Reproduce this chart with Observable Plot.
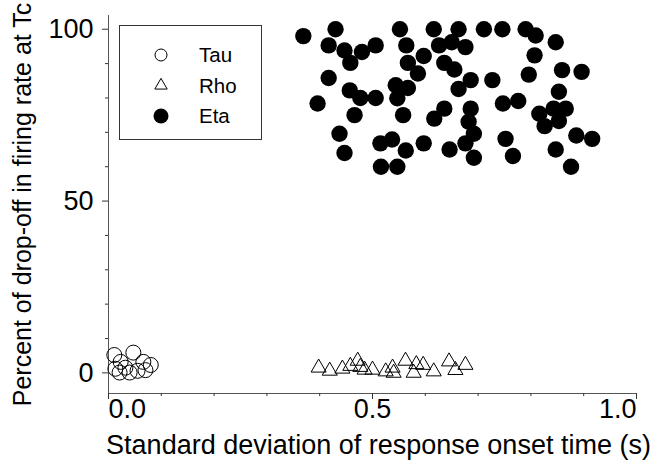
<!DOCTYPE html>
<html><head><meta charset="utf-8">
<script src="https://cdn.jsdelivr.net/npm/d3@7"></script>
<script src="https://cdn.jsdelivr.net/npm/@observablehq/plot@0.6"></script>
<style>
html,body{margin:0;padding:0;background:#fff;}
#chart{width:659px;height:473px;}
</style></head><body><div id="chart"></div>
<script>
// ---- data ----
const seriesNames = ["Tau", "Rho", "Eta"];
const tauX = [0.011, 0.047, 0.023, 0.066, 0.080, 0.013, 0.021, 0.032, 0.040, 0.055, 0.070];
const tauY = [5.2, 5.9, 3.2, 3.2, 2.3, 1.2, 0.1, 1.5, 0.1, 0.6, 0.8];
const rhoX = [0.398, 0.419, 0.443, 0.458, 0.472, 0.477, 0.485, 0.500, 0.525, 0.538, 0.540, 0.5625, 0.578, 0.583, 0.596, 0.616, 0.645, 0.657, 0.676];
const rhoY = [1.5, 0.6, 1.2, 2.0, 3.5, 1.7, 0.9, 0.9, 0.4, 1.5, 0.0, 3.5, 0.0, 2.5, 2.3, 0.4, 3.3, 0.8, 2.3];
const etaX = [0.369, 0.430, 0.552, 0.616, 0.663, 0.711, 0.746, 0.790, 0.809, 0.847,
  0.417, 0.447, 0.480, 0.506, 0.458, 0.564, 0.597, 0.626, 0.650, 0.676,
  0.567, 0.586, 0.636, 0.655, 0.686, 0.663, 0.417, 0.457, 0.477, 0.506,
  0.544, 0.567, 0.547, 0.396, 0.466, 0.558, 0.636, 0.617, 0.686, 0.682,
  0.692, 0.4375, 0.447, 0.515, 0.537, 0.563, 0.597, 0.646, 0.676, 0.692,
  0.516, 0.547, 0.807, 0.859, 0.896, 0.796, 0.727, 0.853, 0.747, 0.776,
  0.843, 0.866, 0.816, 0.853, 0.826, 0.752, 0.886, 0.916, 0.766, 0.847, 0.876];
const etaY = [98.0, 100, 100, 100, 100, 100, 100, 100, 98.2, 96.2,
  95.3, 93.8, 93.4, 95.3, 90.2, 95.3, 92.2, 95.3, 96.2, 94.8,
  90.2, 87.1, 90.2, 88.3, 85.2, 82.6, 85.8, 82.2, 80.0, 80.0,
  83.7, 82.9, 79.9, 78.4, 75.0, 75.0, 76.9, 74.0, 76.9, 73.1,
  69.6, 69.6, 64.0, 66.8, 67.9, 64.7, 66.8, 65.0, 66.8, 62.6,
  60.0, 60.0, 92.4, 88.1, 87.6, 86.8, 85.2, 81.8, 78.4, 79.1,
  76.9, 76.9, 75.4, 73.3, 71.8, 68.1, 69.1, 68.1, 63.1, 65.0, 60.0];
const xMajorTicks = [0, 0.5, 1];
const xMinorTicks = [0.1, 0.2, 0.3, 0.4, 0.6, 0.7, 0.8, 0.9];
const yMajorTicks = [0, 50, 100];
const yMinorTicks = [10, 20, 30, 40, 60, 70, 80, 90];
const xLabel = "Standard deviation of response onset time (s)";
const yLabel = "Percent of drop-off in firing rate at Tc";

const toRows = (xs, ys) => xs.map((x, i) => ({x, y: ys[i]}));
const tau = toRows(tauX, tauY);
const rho = toRows(rhoX, rhoY);
const eta = toRows(etaX, etaY);

const font = "'Liberation Sans', Arial, Helvetica, sans-serif";
const axisColor = "#333";

const plot = Plot.plot({
  width: 659, height: 473,
  marginLeft: 108, marginRight: 23, marginTop: 15, marginBottom: 80,
  x: {domain: [0, 1], axis: null},
  y: {domain: [-6, 104], axis: null},
  style: {fontFamily: font, background: "white", color: "black"},
  marks: [
    Plot.ruleY([-6], {stroke: "#555", strokeWidth: 1}),
    Plot.ruleX([0], {stroke: "#555", strokeWidth: 1}),
    Plot.axisX(xMinorTicks, {tickSize: 3, tickFormat: () => "", label: null, stroke: axisColor}),
    Plot.axisX(xMajorTicks, {tickSize: 6, tickFormat: () => "", label: null, stroke: axisColor}),
    Plot.axisY(yMinorTicks, {tickSize: 3, tickFormat: () => "", label: null, stroke: axisColor}),
    Plot.axisY(yMajorTicks, {tickSize: 6, tickFormat: () => "", label: null, stroke: axisColor}),
    Plot.text(xMajorTicks.filter(d => d === 0), {x: d => d, frameAnchor: "bottom", dy: 24, textAnchor: "start", fontSize: 27, text: d => d.toFixed(1), fill: "black"}),
    Plot.text(xMajorTicks.filter(d => d > 0 && d < 1), {x: d => d, frameAnchor: "bottom", dy: 24, textAnchor: "middle", fontSize: 27, text: d => d.toFixed(1), fill: "black"}),
    Plot.text(xMajorTicks.filter(d => d === 1), {x: d => d, frameAnchor: "bottom", dy: 24, textAnchor: "end", fontSize: 27, text: d => d.toFixed(1), fill: "black"}),
    Plot.text(yMajorTicks, {y: d => d, frameAnchor: "left", dx: -15, textAnchor: "end", fontSize: 27, text: d => String(d), fill: "black"}),
    Plot.text([xLabel], {frameAnchor: "bottom", dx: 6, dy: 60, textAnchor: "middle", fontSize: 27, text: d => d, fill: "black"}),
    Plot.text([yLabel], {frameAnchor: "left", dx: -86, rotate: -90, textAnchor: "middle", fontSize: 25, text: d => d, fill: "black"}),
    Plot.dot(tau, {x: "x", y: "y", r: 7.5, stroke: "black", fill: "none", strokeWidth: 1}),
    Plot.dot(rho, {x: "x", y: "y", symbol: "triangle", r: 5.6, stroke: "black", fill: "none", strokeWidth: 1}),
    Plot.dot(eta, {x: "x", y: "y", r: 8.2, fill: "black", stroke: "none"})
  ]
});
document.getElementById("chart").appendChild(plot);

// ---- legend (boxed, inside the plot) ----
const svg = d3.select(plot);
const lg = svg.append("g").attr("font-family", font).attr("text-anchor", "start");
lg.append("rect").attr("x", 119.5).attr("y", 25.5).attr("width", 142).attr("height", 114)
  .attr("fill", "white").attr("stroke", axisColor).attr("stroke-width", 1);
const legendStyles = [
  {symbol: d3.symbolCircle, r: 6, fill: "none", stroke: "black"},
  {symbol: d3.symbolTriangle, r: 4.6, fill: "none", stroke: "black"},
  {symbol: d3.symbolCircle, r: 7.5, fill: "black", stroke: "none"}
];
seriesNames.forEach((name, i) => {
  const cy = 55 + i * 30.5;
  const s = legendStyles[i];
  lg.append("path").attr("transform", `translate(161,${cy})`)
    .attr("d", d3.symbol(s.symbol, Math.PI * s.r * s.r)())
    .attr("fill", s.fill).attr("stroke", s.stroke).attr("stroke-width", 1);
  lg.append("text").attr("x", 199).attr("y", cy).attr("dy", "0.35em")
    .attr("text-anchor", "start")
    .attr("font-size", 20.5).attr("fill", "black").text(name);
});
</script>
</body></html>
